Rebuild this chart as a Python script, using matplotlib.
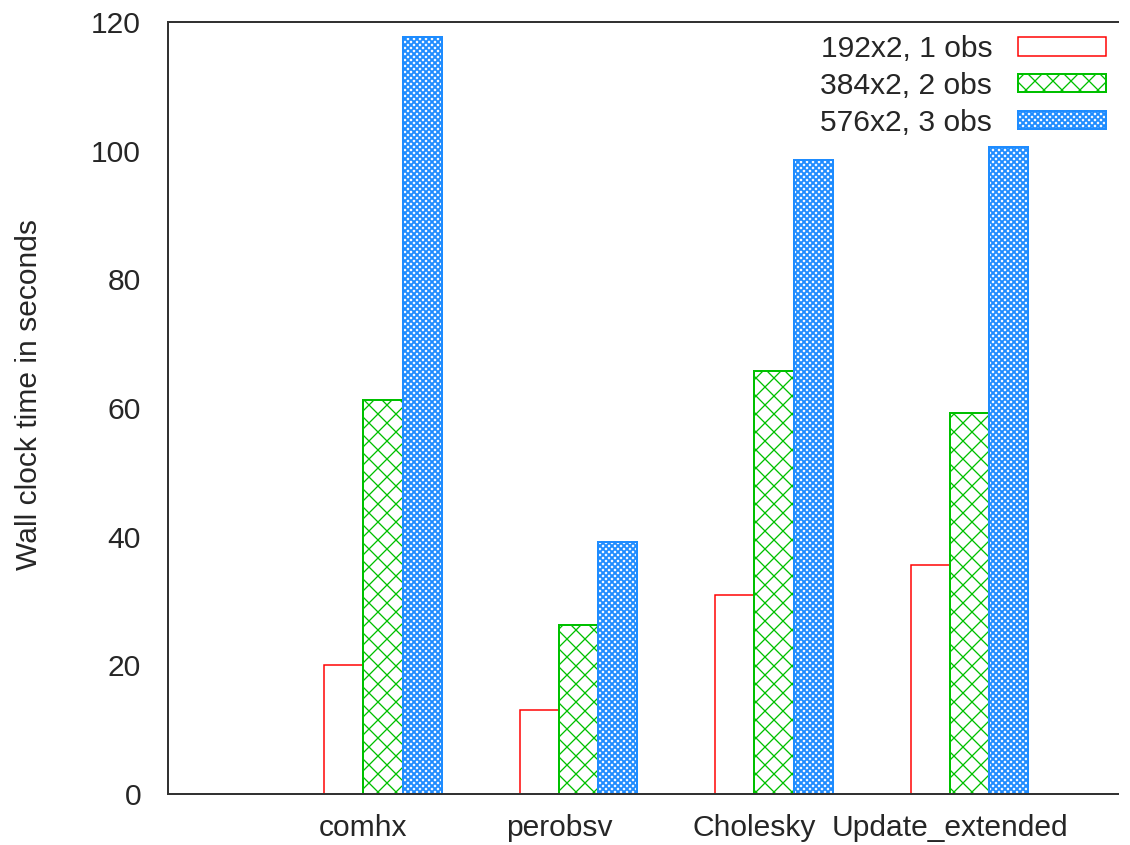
import matplotlib
matplotlib.use("Agg")
import matplotlib.pyplot as plt
import numpy as np

categories = ["comhx", "perobsv", "Cholesky", "Update_extended"]
series_labels = ["192x2, 1 obs", "384x2, 2 obs", "576x2, 3 obs"]
obs1 = [20.0, 13.1, 30.9, 35.6]
obs2 = [61.3, 26.2, 65.7, 59.2]
obs3 = [117.7, 39.2, 98.5, 100.6]
y_ticks = [0, 20, 40, 60, 80, 100, 120]

DPI = 54
W_PX, H_PX = 1130, 845


def px(v):
    """Convert a pixel size to points at the output resolution."""
    return v * 72.0 / DPI


FS = px(30)
TEXT = "#262626"
plt.rcParams["font.family"] = ["Liberation Sans", "DejaVu Sans"]
plt.rcParams["font.size"] = FS
plt.rcParams["hatch.linewidth"] = px(1.5)

fig = plt.figure(figsize=(W_PX / DPI, H_PX / DPI), dpi=DPI)
ax = fig.add_axes([168 / W_PX, 1 - 794 / H_PX, 950 / W_PX, 772 / H_PX])

x = np.arange(len(categories))
w = 0.2
red, green, blue = "#ff0000", "#00c000", "#1e8cff"

ax.bar(x - w, obs1, width=w, align="edge", facecolor="none",
       edgecolor=red, linewidth=px(1.5), label=series_labels[0])
bars2 = ax.bar(x, obs2, width=w, align="edge", facecolor="white",
               edgecolor=green, hatch="x", linewidth=px(2),
               label=series_labels[1])
bars3 = ax.bar(x + w, obs3, width=w, align="edge", facecolor="white",
               edgecolor=blue, hatch="xxx", linewidth=px(2),
               label=series_labels[2])


def hatch_width(bars, lw):
    for p in bars:
        if hasattr(p, "set_hatch_linewidth"):
            p.set_hatch_linewidth(lw)


hatch_width(bars2, px(1.3))
hatch_width(bars3, px(1.9))

ax.set_xlim(-1, 3.86)
ax.set_ylim(0, 120)
ax.set_yticks(y_ticks)
ax.set_xticks(x)
ax.set_xticklabels(categories)
ax.tick_params(length=0, colors=TEXT, labelsize=FS)
ax.tick_params(axis="y", pad=px(27))
ax.tick_params(axis="x", pad=px(20))

for side in ("top", "left", "bottom"):
    ax.spines[side].set_color("#333333")
    ax.spines[side].set_linewidth(px(2))
ax.spines["right"].set_visible(False)

ax.set_ylabel("Wall clock time in seconds", color=TEXT, fontsize=FS)
ax.yaxis.set_label_coords(-0.132, 0.518)

leg = ax.legend(loc="upper right", bbox_to_anchor=(0.987, 0.983),
                markerfirst=False, frameon=False, borderaxespad=0,
                borderpad=0, handlelength=88 / 30, handleheight=17 / 30,
                handletextpad=0.85, labelspacing=0.29, fontsize=FS)
for t in leg.get_texts():
    t.set_color(TEXT)
hatch_width(leg.legend_handles[1:2], px(1.3))
hatch_width(leg.legend_handles[2:3], px(1.9))

fig.savefig("out.png", dpi=DPI)
